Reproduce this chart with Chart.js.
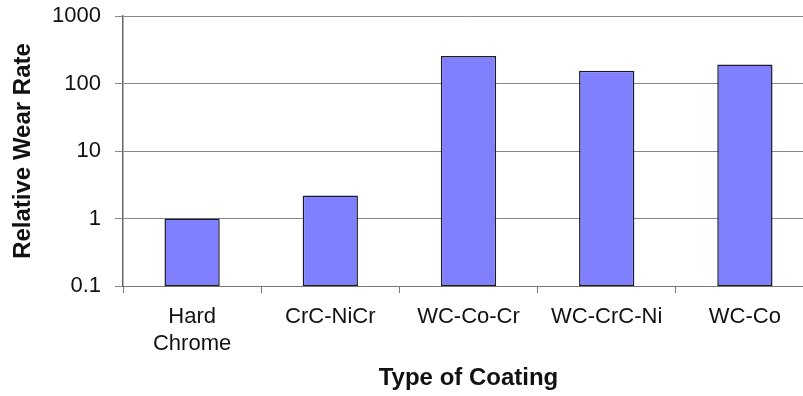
<!DOCTYPE html>
<html>
<head>
<meta charset="utf-8">
<script src="https://cdn.jsdelivr.net/npm/chart.js@4"></script>
<style>
  html, body { margin: 0; padding: 0; background: #fff; overflow: hidden; }
  #wrap { width: 816px; height: 396px; }
</style>
</head>
<body>
<div id="wrap"><canvas id="wearChart" width="816" height="396"></canvas></div>
<script>
// Relative wear rate per coating type (log axis)
const coatings = [['Hard', 'Chrome'], 'CrC-NiCr', 'WC-Co-Cr', 'WC-CrC-Ni', 'WC-Co'];
const wearRates = [1, 2.2, 256, 154, 191];
const yTickValues = [0.1, 1, 10, 100, 1000];

const fontFamily = "'Liberation Sans', Arial, Helvetica, sans-serif";
const textColor = '#111';

const ctx = document.getElementById('wearChart').getContext('2d');
new Chart(ctx, {
  type: 'bar',
  data: {
    labels: coatings,
    datasets: [{
      data: wearRates,
      backgroundColor: '#8080ff',
      borderColor: '#1a1a2e',
      borderWidth: 1.5,
      borderSkipped: false,
      categoryPercentage: 1,
      barPercentage: 0.4
    }]
  },
  options: {
    responsive: false,
    animation: false,
    devicePixelRatio: 1,
    layout: { padding: { top: 16, left: 0, right: 2, bottom: 0 } },
    plugins: {
      legend: { display: false },
      tooltip: { enabled: false }
    },
    scales: {
      x: {
        offset: true,
        grid: {
          offset: true,
          drawOnChartArea: false,
          drawTicks: true,
          tickLength: 7,
          color: '#777'
        },
        border: { color: '#777', width: 1 },
        ticks: {
          color: textColor,
          padding: 11,
          maxRotation: 0,
          autoSkip: false,
          font: { family: fontFamily, size: 22, lineHeight: 1.2 }
        },
        title: {
          display: true,
          text: 'Type of Coating',
          color: textColor,
          padding: { top: 0, bottom: 3 },
          font: { family: fontFamily, size: 24, weight: 'bold', lineHeight: 1.2 }
        },
        afterFit: scale => { scale.height = 110; }
      },
      y: {
        type: 'logarithmic',
        min: 0.1,
        max: 1000,
        grid: {
          color: '#888',
          lineWidth: 1,
          drawTicks: true,
          tickLength: 8
        },
        border: { color: '#666', width: 1.5 },
        afterBuildTicks: scale => {
          scale.ticks = yTickValues.map(v => ({ value: v }));
        },
        ticks: {
          color: textColor,
          padding: 14,
          font: { family: fontFamily, size: 22 },
          callback: v => String(v)
        },
        title: {
          display: true,
          text: 'Relative Wear Rate',
          color: textColor,
          padding: { top: 9, bottom: 0 },
          font: { family: fontFamily, size: 24, weight: 'bold', lineHeight: 1.2 }
        },
        afterFit: scale => {
          scale.width = 123;
          scale.paddingTop = 0;
          scale.paddingBottom = 0;
        }
      }
    }
  }
});
</script>
</body>
</html>
